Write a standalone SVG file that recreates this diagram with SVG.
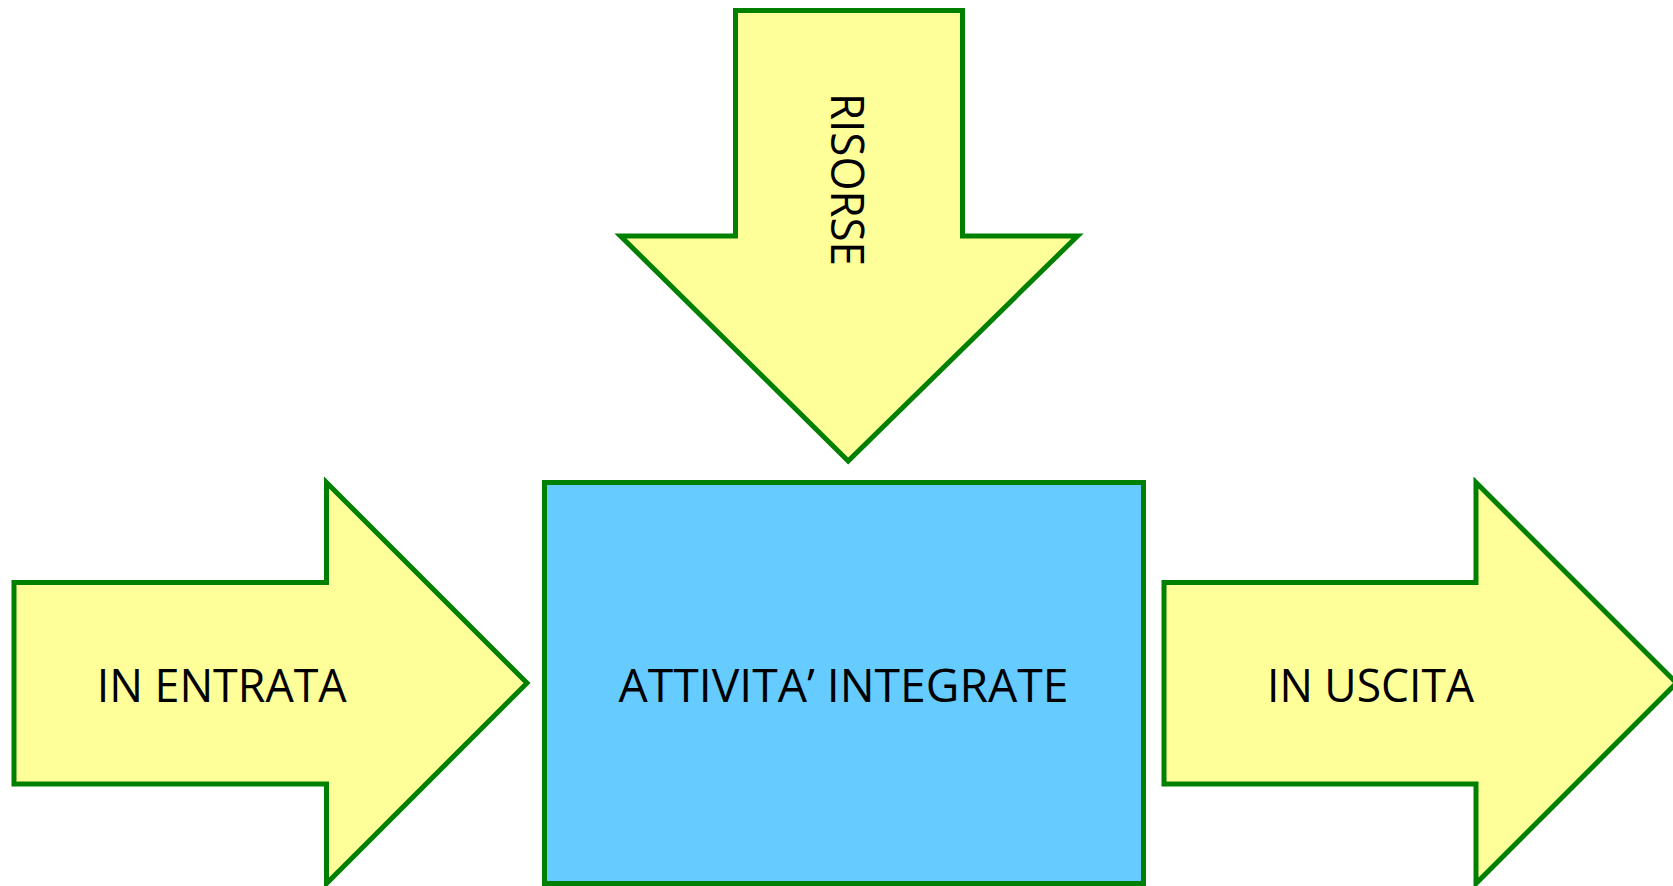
<svg xmlns="http://www.w3.org/2000/svg" width="1673" height="886" viewBox="0 0 1673 886">
<style>
.arrow{fill:#FFFF99;stroke:#008000;stroke-width:5;stroke-linejoin:miter;stroke-miterlimit:10}
.box{fill:#66CCFF;stroke:#008000;stroke-width:5}
.lbl{font-family:"Open Sans","Liberation Sans",Arial,sans-serif;font-size:46px;fill:#000;text-anchor:middle}
</style>
<rect width="1673" height="886" fill="#FFFFFF"/>
<g id="connectors"></g>
<g id="risorse">
<polygon class="arrow" points="735.5,10.5 962.5,10.5 962.5,236 1077.5,236 848.2,461 620.5,236 735.5,236"/>
<text class="lbl" transform="translate(831,179.5) rotate(90)" x="0" y="0" textLength="173" lengthAdjust="spacingAndGlyphs">RISORSE</text>
</g>
<g id="in-entrata">
<polygon class="arrow" points="14,582.5 326.5,582.5 326.5,482.5 527,683 326.5,883.5 326.5,784 14,784"/>
<text class="lbl" x="221.7" y="701.5" textLength="250" lengthAdjust="spacingAndGlyphs">IN ENTRATA</text>
</g>
<g id="attivita">
<rect class="box" x="544.5" y="482.5" width="599" height="401"/>
<text class="lbl" x="843.5" y="701.5" textLength="450" lengthAdjust="spacingAndGlyphs">ATTIVITA’ INTEGRATE</text>
</g>
<g id="in-uscita">
<polygon class="arrow" points="1164,582.5 1476,582.5 1476,482.5 1676.5,683 1476,883.5 1476,784 1164,784"/>
<text class="lbl" x="1370.5" y="701.5" textLength="207" lengthAdjust="spacingAndGlyphs">IN USCITA</text>
</g>
</svg>
